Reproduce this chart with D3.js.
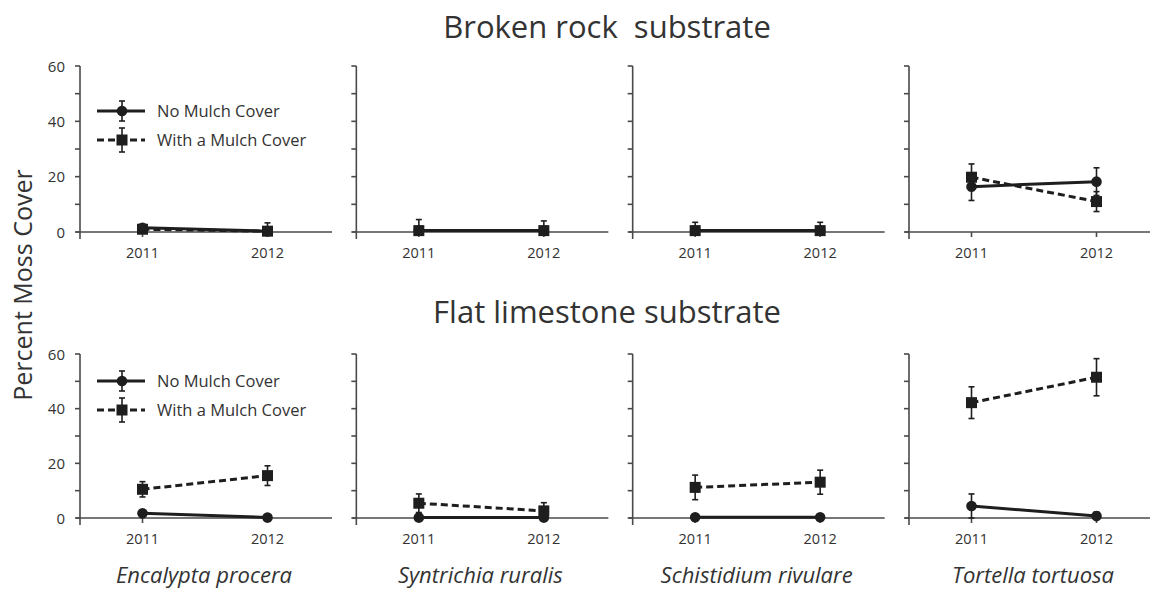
<!DOCTYPE html>
<html>
<head>
<meta charset="utf-8">
<script src="https://cdn.jsdelivr.net/npm/d3@7"></script>
<style>
  html, body { margin: 0; padding: 0; background: #fff; }
  svg { display: block; }
  text { font-family: "Open Sans", "Noto Sans", sans-serif; fill: #333; white-space: pre; }
</style>
</head>
<body>
<svg id="chart" width="1152" height="599"></svg>
<script>
// Moss cover by species, year, substrate and mulch treatment
const years = [2011, 2012];
const species = ["Encalypta procera", "Syntrichia ruralis", "Schistidium rivulare", "Tortella tortuosa"];
const substrates = ["Broken rock  substrate", "Flat limestone substrate"];
const seriesNames = ["No Mulch Cover", "With a Mulch Cover"];
const yTicks = [0, 10, 20, 30, 40, 50, 60];
const yTickLabels = [0, 20, 40, 60];

// means per species as [2011, 2012]
const rockNoMulch    = [[1.5, 0.3], [0.5, 0.5], [0.5, 0.5], [16.4, 18.2]];
const rockNoMulchErr = [[1.0, 0.5], [1.0, 1.0], [1.0, 1.0], [5.0, 5.0]];
const rockMulch      = [[1.0, 0.3], [0.5, 0.5], [0.5, 0.5], [19.8, 11.0]];
const rockMulchErr   = [[1.0, 3.0], [4.0, 3.5], [3.0, 3.0], [4.8, 3.6]];
const flatNoMulch    = [[1.7, 0.2], [0.2, 0.2], [0.3, 0.3], [4.4, 0.7]];
const flatNoMulchErr = [[0.8, 1.0], [0.8, 0.8], [0.8, 0.8], [4.4, 1.5]];
const flatMulch      = [[10.5, 15.5], [5.4, 2.6], [11.2, 13.1], [42.2, 51.5]];
const flatMulchErr   = [[2.8, 3.6], [3.4, 3.0], [4.5, 4.4], [5.8, 6.8]];

const rows = [
  { title: substrates[0], noMulch: rockNoMulch, noMulchErr: rockNoMulchErr, mulch: rockMulch, mulchErr: rockMulchErr },
  { title: substrates[1], noMulch: flatNoMulch, noMulchErr: flatNoMulchErr, mulch: flatMulch, mulchErr: flatMulchErr }
];

const svg = d3.select("#chart");
const ink = "#1e1e1e";
const axisColor = "#4a4a4a";

// layout
const panelLeft = d3.scaleLinear().domain([0, 3]).range([80, 909]);
const rowBase = [232, 518];     // pixel of y = 0 in each row
const rowTop = [66, 354];       // pixel of y = 60 in each row
const titleY = [38, 323];
const legendY = [[111, 140], [381, 410]];
const tickLabelY = [258, 544];

const x = d3.scaleLinear().domain([2010.5, 2012.5]).range([0, 250]);

rows.forEach((row, r) => {
  const y = d3.scaleLinear().domain([0, 60]).range([rowBase[r], rowTop[r]]);

  svg.append("text")
    .attr("x", 607).attr("y", titleY[r])
    .attr("text-anchor", "middle")
    .attr("font-size", 31)
    .text(row.title);

  species.forEach((sp, i) => {
    const g = svg.append("g").attr("transform", `translate(${panelLeft(i)},0)`);

    // x axis baseline
    g.append("line")
      .attr("x1", -4).attr("x2", i === 3 ? 241 : 252)
      .attr("y1", y(0)).attr("y2", y(0))
      .attr("stroke", axisColor).attr("stroke-width", 1.6);
    // y axis line, running slightly below the baseline
    g.append("line")
      .attr("x1", 0).attr("x2", 0)
      .attr("y1", y(60)).attr("y2", y(0) + 7)
      .attr("stroke", axisColor).attr("stroke-width", 1.6);
    // y ticks
    g.selectAll(".yt").data(yTicks).join("line")
      .attr("x1", -5).attr("x2", 0)
      .attr("y1", d => y(d)).attr("y2", d => y(d))
      .attr("stroke", axisColor).attr("stroke-width", 1.6);
    if (i === 0) {
      g.selectAll(".yl").data(yTickLabels).join("text")
        .attr("x", -15).attr("y", d => y(d) + 5.5)
        .attr("text-anchor", "end")
        .attr("font-size", 15)
        .text(d => d);
    }
    // x ticks and labels
    g.selectAll(".xt").data(years).join("line")
      .attr("x1", d => x(d)).attr("x2", d => x(d))
      .attr("y1", y(0)).attr("y2", y(0) + 5)
      .attr("stroke", axisColor).attr("stroke-width", 1.6);
    g.selectAll(".xl").data(years).join("text")
      .attr("x", d => x(d)).attr("y", tickLabelY[r])
      .attr("text-anchor", "middle")
      .attr("font-size", 14.5)
      .text(d => d);

    const drawSeries = (vals, errs, dashed, square) => {
      const pts = years.map((yr, k) => ({ yr, v: vals[i][k], e: errs[i][k] }));
      const s = g.append("g");
      // error bars
      pts.forEach(p => {
        const lo = Math.max(0, p.v - p.e), hi = p.v + p.e;
        s.append("line")
          .attr("x1", x(p.yr)).attr("x2", x(p.yr))
          .attr("y1", y(lo)).attr("y2", y(hi))
          .attr("stroke", ink).attr("stroke-width", 1.6);
        [hi, p.v - p.e].forEach(c => {
          if (c < 0) return;
          s.append("line")
            .attr("x1", x(p.yr) - 3).attr("x2", x(p.yr) + 3)
            .attr("y1", y(c)).attr("y2", y(c))
            .attr("stroke", ink).attr("stroke-width", 1.6);
        });
      });
      s.append("path")
        .datum(pts)
        .attr("d", d3.line().x(p => x(p.yr)).y(p => y(p.v)))
        .attr("fill", "none")
        .attr("stroke", ink)
        .attr("stroke-width", 3)
        .attr("stroke-dasharray", dashed ? "7,4" : null);
      if (square) {
        s.selectAll("rect").data(pts).join("rect")
          .attr("x", p => x(p.yr) - 5.5).attr("y", p => y(p.v) - 5.5)
          .attr("width", 11).attr("height", 11)
          .attr("fill", ink);
      } else {
        s.selectAll("circle").data(pts).join("circle")
          .attr("cx", p => x(p.yr)).attr("cy", p => y(p.v))
          .attr("r", 5.3).attr("fill", ink);
      }
    };
    drawSeries(row.mulch, row.mulchErr, true, true);
    drawSeries(row.noMulch, row.noMulchErr, false, false);
  });

  // legend in the first panel of each row
  const lg = svg.append("g").attr("transform", `translate(${panelLeft(0)},0)`);
  seriesNames.forEach((name, k) => {
    const ly = legendY[r][k];
    const half = k === 0 ? 10 : 12;
    lg.append("line")
      .attr("x1", 17).attr("x2", 65).attr("y1", ly).attr("y2", ly)
      .attr("stroke", ink).attr("stroke-width", 3)
      .attr("stroke-dasharray", k === 1 ? "7,4" : null);
    lg.append("line")
      .attr("x1", 42).attr("x2", 42).attr("y1", ly - half).attr("y2", ly + half)
      .attr("stroke", ink).attr("stroke-width", 1.6);
    [ly - half, ly + half].forEach(c => lg.append("line")
      .attr("x1", 39).attr("x2", 45).attr("y1", c).attr("y2", c)
      .attr("stroke", ink).attr("stroke-width", 1.6));
    if (k === 0) {
      lg.append("circle").attr("cx", 42).attr("cy", ly).attr("r", 5.3).attr("fill", ink);
    } else {
      lg.append("rect").attr("x", 36.5).attr("y", ly - 5.5).attr("width", 11).attr("height", 11).attr("fill", ink);
    }
    lg.append("text")
      .attr("x", 77).attr("y", ly + 5.5)
      .attr("font-size", 16.5)
      .text(name);
  });
});

// species names under each column
species.forEach((sp, i) => {
  svg.append("text")
    .attr("x", panelLeft(i) + 124).attr("y", 583)
    .attr("text-anchor", "middle")
    .attr("font-size", 22)
    .attr("font-style", "italic")
    .text(sp);
});

// shared y-axis title
svg.append("text")
  .attr("transform", "translate(32,285) rotate(-90)")
  .attr("text-anchor", "middle")
  .attr("font-size", 25)
  .text("Percent Moss Cover");
</script>
</body>
</html>
